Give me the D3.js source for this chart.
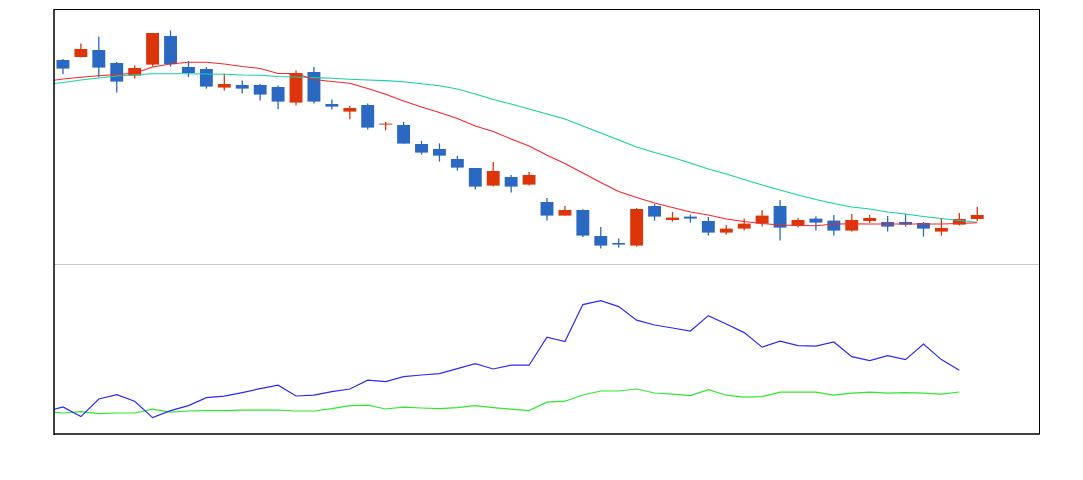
<!DOCTYPE html>
<html>
<head>
<meta charset="utf-8">
<script src="https://cdn.jsdelivr.net/npm/d3@7"></script>
<style>
  html, body { margin: 0; padding: 0; background: #fff; }
  svg { display: block; }
</style>
</head>
<body>
<div id="chart"></div>
<script>
// Candle data (52 periods)
const opens  = [3020, 3035, 3070, 3005, 2942, 2997, 3140, 2985, 2975, 2882, 2895, 2895, 2885, 2807, 2960, 2800, 2762, 2795, 2697, 2695,
                2600, 2575, 2525, 2480, 2392, 2435, 2397, 2310, 2242, 2270, 2140, 2105, 2092, 2290, 2220, 2237, 2215, 2157, 2177, 2202,
                2290, 2192, 2227, 2217, 2167, 2215, 2210, 2210, 2205, 2162, 2197, 2225];
const highs  = [3025, 3103, 3138, 3010, 2993, 3155, 3168, 3015, 2985, 2951, 2918, 2900, 2893, 2968, 2985, 2823, 2790, 2802, 2710, 2710,
                2615, 2603, 2540, 2480, 2510, 2445, 2460, 2330, 2290, 2274, 2185, 2127, 2280, 2300, 2260, 2247, 2235, 2195, 2228, 2270,
                2320, 2230, 2237, 2245, 2250, 2245, 2240, 2250, 2210, 2230, 2255, 2285];
const lows   = [2949, 3032, 2934, 2858, 2927, 2987, 2987, 2934, 2877, 2867, 2852, 2817, 2774, 2794, 2802, 2772, 2724, 2672, 2669, 2602,
                2547, 2512, 2467, 2372, 2387, 2357, 2392, 2217, 2242, 2135, 2077, 2082, 2087, 2217, 2212, 2207, 2142, 2147, 2167, 2187,
                2117, 2182, 2167, 2142, 2162, 2205, 2162, 2187, 2137, 2142, 2192, 2215];
const closes = [2977, 3075, 2982, 2912, 2980, 3155, 2999, 2955, 2887, 2900, 2877, 2847, 2812, 2955, 2812, 2787, 2780, 2682, 2702, 2602,
                2557, 2542, 2482, 2387, 2465, 2387, 2445, 2242, 2270, 2142, 2092, 2097, 2275, 2237, 2232, 2227, 2157, 2177, 2202, 2242,
                2182, 2220, 2207, 2167, 2220, 2230, 2187, 2197, 2177, 2180, 2225, 2245];

// Moving averages; first value belongs to the period before the first candle
const maShort = [2912.5, 2925, 2934, 2941, 2947.5, 2953.5, 2985, 3000, 3008.5, 3008.5, 3000, 2987.5, 2977.5, 2952.5, 2952.5, 2922.5,
                 2912.5, 2904, 2877.5, 2848.5, 2815, 2785, 2757.5, 2727.5, 2690, 2662.5, 2625, 2590, 2543.5, 2502.5, 2455, 2407.5,
                 2362.5, 2332.5, 2305, 2282.5, 2260, 2245, 2225, 2212.5, 2202.5, 2195, 2192.5, 2191.5, 2200, 2201.5, 2200, 2200,
                 2200, 2200, 2200, 2202.5, 2206.5];
const maLong  = [2897.5, 2907.5, 2920, 2930, 2940, 2946, 2951, 2951.5, 2951.5, 2950, 2948.5, 2945, 2943.5, 2937.5, 2935, 2932,
                 2928.5, 2924, 2920, 2917, 2911, 2901, 2891, 2875, 2850, 2822.5, 2800, 2775, 2750, 2725, 2690, 2655,
                 2620, 2585, 2557.5, 2532.5, 2505, 2475, 2450, 2422.5, 2395, 2370, 2345, 2322.5, 2302.5, 2285, 2275, 2260,
                 2250, 2237.5, 2227.5, 2217.5, 2208.5];

// Lower panel indicator lines; first value belongs to the period before the first candle
const lowerBlue  = [11.1, 13.5, 8.7, 17.5, 19.7, 16.4, 8.2, 11.7, 14.2, 18.2, 18.9, 20.7, 22.7, 24.4, 19.0, 19.4, 21.2, 22.5, 26.9,
                    26.2, 28.7, 29.5, 30.2, 32.7, 35.2, 32.5, 34.4, 34.4, 48.4, 46.2, 64.7, 66.7, 63.7, 56.9, 54.5, 53.0, 51.5,
                    59.2, 55.0, 50.7, 43.4, 46.4, 44.2, 43.9, 46.0, 38.7, 36.7, 39.2, 37.2, 45.0, 37.2, 31.9];
const lowerGreen = [11.3, 10.5, 11.2, 10.2, 10.5, 10.5, 12.4, 10.9, 11.5, 11.7, 11.7, 11.9, 11.9, 12.0, 11.5, 11.5, 12.7, 14.2, 14.4,
                    12.5, 13.4, 13.0, 12.7, 13.2, 14.2, 13.2, 12.4, 11.7, 15.9, 16.4, 19.5, 21.5, 21.5, 22.5, 20.5, 19.9, 19.2,
                    22.2, 19.4, 18.4, 18.7, 20.9, 20.9, 20.9, 19.4, 20.4, 20.9, 20.4, 20.7, 20.4, 19.9, 21.0];

const slotCount = 55;           // candle slots across the x axis
const priceDomain = [2000, 3275];
const lowerDomain = [0, 85];

const width = 1083, height = 480;
const plot = { left: 54, right: 1040, top: 9, split: 264, bottom: 434 };

const svg = d3.select('#chart').append('svg')
    .attr('width', width)
    .attr('height', height);

const x = d3.scaleLinear()
    .domain([-0.5, slotCount - 0.5])
    .range([plot.left, plot.right]);

const yPrice = d3.scaleLinear()
    .domain(priceDomain)
    .range([plot.split, plot.top]);

const yLower = d3.scaleLinear()
    .domain(lowerDomain)
    .range([plot.bottom, plot.split]);

const step = x(1) - x(0);
const bodyWidth = step * 0.72;

// Clip paths for the two panels
const defs = svg.append('defs');
defs.append('clipPath').attr('id', 'clip-top')
    .append('rect')
    .attr('x', plot.left).attr('y', plot.top)
    .attr('width', plot.right - plot.left).attr('height', plot.split - plot.top);
defs.append('clipPath').attr('id', 'clip-bottom')
    .append('rect')
    .attr('x', plot.left).attr('y', plot.split)
    .attr('width', plot.right - plot.left).attr('height', plot.bottom - plot.split);

const candles = opens.map((o, i) => ({
    i: i, open: o, high: highs[i], low: lows[i], close: closes[i]
}));

const upColor = '#dc3509';
const downColor = '#2a68c1';

const topPanel = svg.append('g').attr('clip-path', 'url(#clip-top)');

// Wicks
topPanel.selectAll('.wick')
    .data(candles)
    .enter().append('line')
    .attr('class', 'wick')
    .attr('x1', d => x(d.i))
    .attr('x2', d => x(d.i))
    .attr('y1', d => yPrice(d.high))
    .attr('y2', d => yPrice(d.low))
    .style('stroke', d => d.close >= d.open ? upColor : downColor)
    .style('stroke-width', 1.3);

// Bodies
topPanel.selectAll('.body')
    .data(candles)
    .enter().append('rect')
    .attr('class', 'body')
    .attr('x', d => x(d.i) - bodyWidth / 2)
    .attr('width', bodyWidth)
    .attr('y', d => yPrice(Math.max(d.open, d.close)))
    .attr('height', d => Math.max(1, Math.abs(yPrice(d.open) - yPrice(d.close))))
    .style('fill', d => d.close >= d.open ? upColor : downColor);

// Moving averages (shifted: value k sits at candle k-1)
const shiftedLine = yScale => d3.line()
    .x((d, k) => x(k - 1))
    .y(d => yScale(d));

topPanel.append('path')
    .datum(maLong)
    .attr('d', shiftedLine(yPrice))
    .style('fill', 'none')
    .style('stroke', '#14d2a0')
    .style('stroke-width', 1.1);

topPanel.append('path')
    .datum(maShort)
    .attr('d', shiftedLine(yPrice))
    .style('fill', 'none')
    .style('stroke', '#f5262b')
    .style('stroke-width', 1.1);

// Lower panel lines (value k sits at candle k-1)
const bottomPanel = svg.append('g').attr('clip-path', 'url(#clip-bottom)');

bottomPanel.append('path')
    .datum(lowerGreen)
    .attr('d', shiftedLine(yLower))
    .style('fill', 'none')
    .style('stroke', '#2ee82e')
    .style('stroke-width', 1.2);

bottomPanel.append('path')
    .datum(lowerBlue)
    .attr('d', shiftedLine(yLower))
    .style('fill', 'none')
    .style('stroke', '#2b2bf5')
    .style('stroke-width', 1.2);

// Panel divider
svg.append('line')
    .attr('x1', plot.left).attr('x2', plot.right)
    .attr('y1', plot.split + 0.5).attr('y2', plot.split + 0.5)
    .style('stroke', '#c8c8c8')
    .style('stroke-width', 1);

// Frame
svg.append('line')
    .attr('x1', plot.left).attr('x2', plot.right)
    .attr('y1', plot.top + 0.5).attr('y2', plot.top + 0.5)
    .style('stroke', '#000').style('stroke-width', 1);
svg.append('line')
    .attr('x1', plot.right - 0.5).attr('x2', plot.right - 0.5)
    .attr('y1', plot.top).attr('y2', plot.bottom)
    .style('stroke', '#000').style('stroke-width', 1);
svg.append('line')
    .attr('x1', plot.left).attr('x2', plot.left)
    .attr('y1', plot.top).attr('y2', plot.bottom + 1)
    .style('stroke', '#000').style('stroke-width', 1.5);
svg.append('line')
    .attr('x1', plot.left).attr('x2', plot.right)
    .attr('y1', plot.bottom).attr('y2', plot.bottom)
    .style('stroke', '#000').style('stroke-width', 1.5);
</script>
</body>
</html>
